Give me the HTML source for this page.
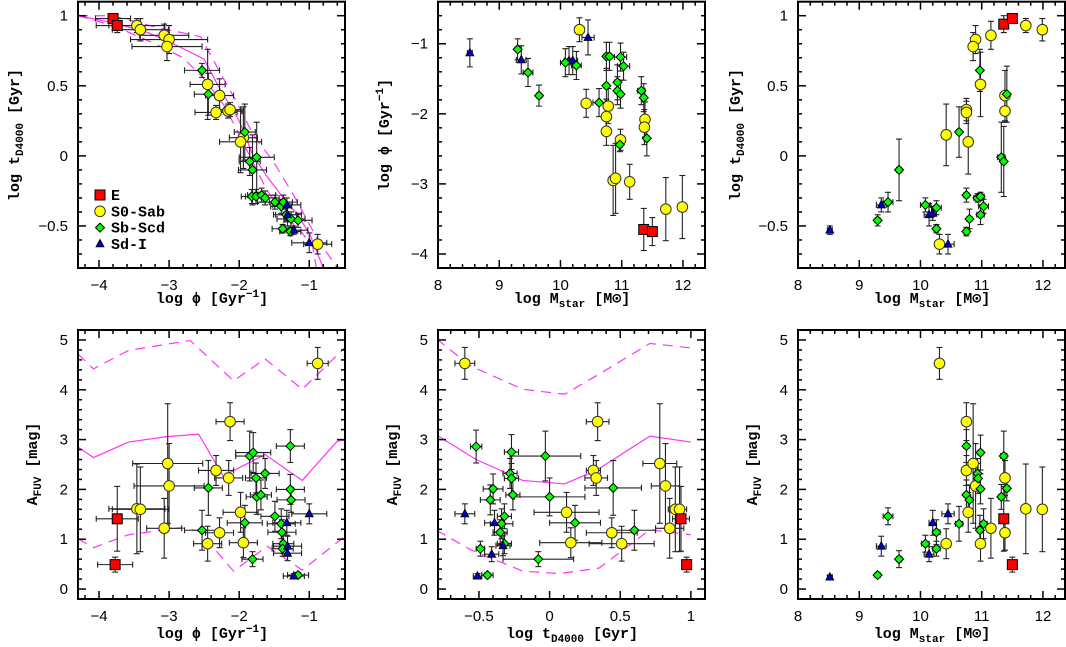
<!DOCTYPE html>
<html><head><meta charset="utf-8"><style>
html,body{margin:0;padding:0;background:#fff}
svg{display:block}
text{font-family:"Liberation Sans",sans-serif}
.t{font-family:"Liberation Mono",monospace;font-size:15px;font-weight:bold}
</style></head><body>
<svg id="fig" width="1066" height="647" viewBox="0 0 1066 647"></svg>
<script>
// type: 0=E,1=S0-Sab,2=Sb-Scd,3=Sd-I ; point = [x, y, xerr, yerr, type]
const p1Points=[[-3.80,0.98,0.25,0.03,0],[-3.74,0.93,0.3,0.05,0],[-3.46,0.93,0.4,0.05,1],[-3.41,0.90,0.4,0.08,1],[-3.07,0.86,0.35,0.08,1],[-3.0,0.83,0.55,0.1,1],[-3.03,0.78,0.5,0.1,1],[-2.45,0.51,0.25,0.25,1],[-2.28,0.43,0.2,0.12,1],[-2.33,0.31,0.3,0.05,1],[-2.16,0.32,0.2,0.05,1],[-2.13,0.33,0.15,0.05,1],[-1.94,0.13,0.2,0.22,1],[-1.98,0.10,0.3,0.22,1],[-0.88,-0.63,0.2,0.07,1],[-2.53,0.61,0.25,0.05,2],[-2.44,0.44,0.2,0.15,2],[-1.92,0.17,0.15,0.2,2],[-1.75,-0.01,0.25,0.25,2],[-1.85,-0.04,0.15,0.1,2],[-1.81,-0.10,0.2,0.25,2],[-1.82,-0.29,0.15,0.05,2],[-1.76,-0.29,0.15,0.05,2],[-1.68,-0.28,0.2,0.05,2],[-1.63,-0.30,0.2,0.05,2],[-1.49,-0.33,0.25,0.05,2],[-1.40,-0.36,0.15,0.05,2],[-1.37,-0.33,0.2,0.05,2],[-1.33,-0.42,0.15,0.05,2],[-1.26,-0.45,0.2,0.05,2],[-1.16,-0.46,0.2,0.05,2],[-1.38,-0.52,0.15,0.03,2],[-1.27,-0.54,0.15,0.03,2],[-1.32,-0.35,0.2,0.05,3],[-1.31,-0.42,0.2,0.08,3],[-1.22,-0.53,0.2,0.03,3],[-1.0,-0.62,0.25,0.07,3]];
const p2Points=[[8.52,-1.13,0.04,0.2,3],[9.36,-1.23,0.08,0.2,3],[10.14,-1.24,0.08,0.2,3],[10.2,-1.24,0.08,0.2,3],[10.45,-0.91,0.1,0.25,3],[10.31,-0.80,0.08,0.17,1],[10.42,-1.85,0.05,0.2,1],[10.78,-1.89,0.05,0.25,1],[10.75,-2.04,0.04,0.25,1],[10.75,-2.25,0.04,0.2,1],[10.98,-2.37,0.04,0.15,1],[10.86,-2.95,0.04,0.5,1],[10.9,-2.92,0.04,0.5,1],[11.13,-2.97,0.04,0.25,1],[11.38,-2.08,0.04,0.25,1],[11.37,-2.19,0.04,0.25,1],[11.72,-3.36,0.03,0.45,1],[11.99,-3.33,0.03,0.45,1],[11.36,-3.65,0.03,0.3,0],[11.5,-3.68,0.03,0.2,0],[9.30,-1.08,0.04,0.15,2],[9.47,-1.41,0.08,0.2,2],[9.65,-1.74,0.04,0.15,2],[10.08,-1.27,0.08,0.2,2],[10.26,-1.31,0.08,0.2,2],[10.63,-1.84,0.1,0.2,2],[10.75,-1.60,0.04,0.25,2],[10.75,-1.18,0.04,0.2,2],[10.8,-1.18,0.04,0.2,2],[10.98,-1.19,0.1,0.2,2],[11.03,-1.32,0.1,0.2,2],[10.93,-1.55,0.04,0.25,2],[10.93,-1.67,0.04,0.2,2],[10.98,-1.72,0.04,0.2,2],[10.97,-2.44,0.04,0.1,2],[11.32,-1.67,0.06,0.2,2],[11.36,-1.77,0.04,0.2,2],[11.41,-2.35,0.04,0.25,2]];
const p3Points=[[11.36,0.94,0.03,0.06,0],[11.5,0.98,0.03,0.02,0],[11.72,0.93,0.03,0.05,1],[11.99,0.90,0.03,0.08,1],[11.15,0.86,0.03,0.1,1],[10.9,0.83,0.03,0.1,1],[10.86,0.78,0.03,0.1,1],[10.98,0.51,0.03,0.23,1],[10.75,0.33,0.03,0.08,1],[10.75,0.31,0.03,0.08,1],[10.78,0.10,0.03,0.23,1],[10.42,0.15,0.03,0.22,1],[11.38,0.43,0.03,0.18,1],[11.38,0.32,0.03,0.08,1],[10.31,-0.63,0.03,0.07,1],[10.97,0.61,0.03,0.15,2],[11.41,0.44,0.03,0.2,2],[10.63,0.17,0.04,0.18,2],[11.32,-0.01,0.06,0.25,2],[11.36,-0.04,0.04,0.25,2],[9.65,-0.10,0.04,0.22,2],[9.47,-0.33,0.08,0.07,2],[9.30,-0.46,0.04,0.04,2],[10.08,-0.35,0.08,0.05,2],[10.26,-0.37,0.08,0.05,2],[10.26,-0.52,0.04,0.03,2],[10.75,-0.28,0.04,0.05,2],[10.93,-0.30,0.06,0.03,2],[10.98,-0.29,0.06,0.03,2],[11.03,-0.36,0.08,0.05,2],[10.98,-0.42,0.06,0.07,2],[10.8,-0.45,0.04,0.07,2],[10.75,-0.54,0.04,0.03,2],[8.52,-0.53,0.04,0.03,3],[9.36,-0.35,0.08,0.05,3],[10.14,-0.42,0.08,0.08,3],[10.2,-0.41,0.06,0.05,3],[10.45,-0.63,0.1,0.07,3]];
const p4Points=[[-3.74,1.41,0.3,0.65,0],[-3.77,0.49,0.25,0.15,0],[-3.46,1.61,0.4,0.9,1],[-3.41,1.60,0.4,0.85,1],[-3.02,2.52,0.5,1.2,1],[-3.0,2.07,0.5,0.85,1],[-3.07,1.22,0.25,0.6,1],[-2.45,0.91,0.2,0.35,1],[-2.28,1.13,0.2,0.3,1],[-2.33,2.38,0.25,0.3,1],[-2.15,2.23,0.2,0.35,1],[-2.13,3.36,0.2,0.38,1],[-1.98,1.54,0.25,0.4,1],[-1.94,0.93,0.2,0.3,1],[-0.88,4.53,0.15,0.32,1],[-2.53,1.18,0.25,0.4,2],[-2.44,2.03,0.2,0.55,2],[-1.92,1.33,0.25,0.35,2],[-1.81,0.60,0.15,0.15,2],[-1.85,2.67,0.2,0.5,2],[-1.8,2.74,0.25,0.4,2],[-1.76,2.23,0.15,0.3,2],[-1.75,1.85,0.15,0.35,2],[-1.69,1.89,0.15,0.3,2],[-1.63,2.32,0.2,0.3,2],[-1.49,1.46,0.2,0.3,2],[-1.40,1.31,0.2,0.3,2],[-1.39,1.14,0.2,0.25,2],[-1.37,0.91,0.15,0.2,2],[-1.38,0.81,0.15,0.15,2],[-1.27,2.87,0.2,0.33,2],[-1.27,2.0,0.2,0.3,2],[-1.26,1.79,0.2,0.25,2],[-1.16,0.28,0.15,0.05,2],[-1.32,1.33,0.2,0.25,3],[-1.31,0.86,0.2,0.2,3],[-1.31,0.72,0.2,0.15,3],[-1.22,0.26,0.15,0.05,3],[-1.0,1.51,0.25,0.2,3]];
const p5Points=[[-0.6,4.53,0.07,0.32,1],[0.34,3.36,0.08,0.38,1],[0.31,2.38,0.05,0.3,1],[0.33,2.23,0.08,0.35,1],[0.78,2.52,0.12,1.2,1],[0.82,2.07,0.1,0.85,1],[0.12,1.54,0.23,0.4,1],[0.15,0.93,0.22,0.3,1],[0.44,1.13,0.18,0.3,1],[0.51,0.91,0.23,0.35,1],[0.89,1.60,0.05,0.85,1],[0.92,1.60,0.05,0.85,1],[0.85,1.22,0.1,0.6,1],[0.93,1.41,0.06,0.65,0],[0.97,0.49,0.02,0.15,0],[-0.52,2.86,0.04,0.33,2],[-0.27,2.75,0.05,0.35,2],[-0.28,2.32,0.05,0.3,2],[-0.27,2.22,0.05,0.3,2],[-0.26,1.89,0.05,0.3,2],[-0.4,2.01,0.07,0.3,2],[-0.42,1.79,0.07,0.3,2],[-0.32,1.46,0.05,0.25,2],[-0.34,1.31,0.08,0.3,2],[-0.35,1.14,0.05,0.25,2],[-0.32,0.91,0.05,0.2,2],[-0.49,0.81,0.03,0.15,2],[-0.44,0.28,0.04,0.05,2],[-0.03,2.67,0.25,0.5,2],[0.0,1.85,0.25,0.38,2],[0.18,1.33,0.18,0.35,2],[0.45,2.03,0.2,0.55,2],[0.6,1.18,0.15,0.4,2],[-0.08,0.60,0.25,0.15,2],[-0.6,1.51,0.07,0.2,3],[-0.39,1.33,0.07,0.25,3],[-0.33,0.87,0.05,0.2,3],[-0.41,0.70,0.05,0.15,3],[-0.51,0.26,0.03,0.05,3]];
const p6Points=[[10.31,4.53,0.06,0.32,1],[10.75,3.36,0.03,0.38,1],[10.75,2.38,0.03,0.3,1],[10.86,2.52,0.03,1.2,1],[10.9,2.07,0.03,0.85,1],[10.78,1.54,0.03,0.4,1],[10.98,0.91,0.03,0.35,1],[11.15,1.22,0.03,0.6,1],[11.38,2.23,0.03,0.35,1],[11.38,1.13,0.03,0.35,1],[10.42,0.91,0.03,0.3,1],[11.72,1.61,0.03,0.9,1],[11.99,1.60,0.03,0.85,1],[11.36,1.41,0.03,0.65,0],[11.5,0.49,0.03,0.15,0],[9.47,1.46,0.08,0.17,2],[9.30,0.28,0.04,0.05,2],[9.65,0.60,0.04,0.17,2],[10.08,0.91,0.06,0.17,2],[10.26,1.14,0.06,0.25,2],[10.26,0.81,0.06,0.15,2],[10.63,1.31,0.06,0.35,2],[10.75,2.87,0.04,0.33,2],[10.75,1.89,0.04,0.3,2],[10.8,1.79,0.04,0.3,2],[10.93,2.32,0.04,0.3,2],[10.94,2.22,0.04,0.3,2],[10.98,2.74,0.04,0.35,2],[10.98,2.01,0.04,0.3,2],[10.97,1.18,0.04,0.3,2],[11.03,1.31,0.06,0.3,2],[11.32,1.85,0.04,0.25,2],[11.36,2.67,0.05,0.5,2],[11.41,2.02,0.04,0.25,2],[8.52,0.24,0.04,0.03,3],[9.36,0.86,0.08,0.2,3],[10.14,0.70,0.08,0.15,3],[10.2,1.33,0.06,0.25,3],[10.45,1.51,0.1,0.2,3]];
// model curves [x,y]
const p1Solid=[[-4.3,1.0],[-3.8,0.95],[-3.3,0.88],[-2.9,0.79],[-2.5,0.69],[-2.3,0.5],[-2.0,0.25],[-1.8,0.0],[-1.6,-0.15],[-1.4,-0.28],[-1.2,-0.4],[-1.0,-0.55],[-0.8,-0.8]];
const p1Upper=[[-4.3,1.0],[-3.8,1.0],[-3.2,0.92],[-2.55,0.85],[-2.3,0.62],[-2.0,0.35],[-1.8,0.15],[-1.5,-0.05],[-1.2,-0.3],[-0.9,-0.58],[-0.6,-0.8]];
const p1Lower=[[-4.3,1.0],[-3.8,0.93],[-3.2,0.8],[-2.8,0.7],[-2.5,0.55],[-2.2,0.35],[-2.0,0.15],[-1.8,-0.05],[-1.6,-0.25],[-1.3,-0.45],[-1.1,-0.55],[-0.95,-0.65],[-0.9,-0.8]];
const p4Solid=[[-4.3,2.85],[-4.08,2.64],[-3.58,2.95],[-3.03,3.06],[-2.58,3.11],[-2.23,2.27],[-1.63,2.7],[-1.10,2.18],[-0.6,2.97],[-0.49,2.99]];
const p4Upper=[[-4.3,4.72],[-4.08,4.42],[-3.58,4.79],[-2.7,4.99],[-2.08,4.18],[-1.63,4.62],[-1.1,4.01],[-0.49,4.85]];
const p4Lower=[[-4.3,1.01],[-4.08,0.83],[-3.58,1.09],[-2.84,1.23],[-2.58,1.17],[-2.08,0.36],[-1.6,0.86],[-1.1,0.38],[-0.49,1.06]];
const p5Solid=[[-0.8,3.09],[-0.52,2.60],[-0.19,2.18],[0.106,2.11],[0.33,2.38],[0.71,3.07],[1.0,2.95]];
const p5Upper=[[-0.8,5.02],[-0.56,4.48],[-0.19,4.01],[0.106,3.91],[0.33,4.28],[0.71,4.93],[1.0,4.84]];
const p5Lower=[[-0.8,1.18],[-0.56,0.79],[-0.19,0.36],[0.07,0.31],[0.35,0.42],[0.71,1.19],[1.0,1.09]];
const legendLabels=["E","S0-Sab","Sb-Scd","Sd-I"];
const xTicksPhi=[-4,-3,-2,-1], xTicksM=[8,9,10,11,12], xTicksT=[-0.5,0,0.5,1];
const yTicksT=[-0.5,0,0.5,1], yTicksPhi=[-4,-3,-2,-1], yTicksA=[0,1,2,3,4,5];

const NS="http://www.w3.org/2000/svg";
const svg=document.getElementById('fig');
function mk(tag,at,parent){const e=document.createElementNS(NS,tag);for(const k in at)e.setAttribute(k,at[k]);(parent||svg).appendChild(e);return e;}
const fills=["#ff0000","#ffff00","#00ff00","#0000cc"];
function marker(g,type,px,py){
  let e;
  if(type===0){e=mk('rect',{x:px-5,y:py-5,width:10,height:10,fill:fills[0],stroke:'#000','stroke-width':1},g);}
  else if(type===1){e=mk('circle',{cx:px,cy:py,r:5.3,fill:fills[1],stroke:'#333','stroke-width':1},g);}
  else if(type===2){e=mk('polygon',{points:`${px},${py-4.5} ${px+4.5},${py} ${px},${py+4.5} ${px-4.5},${py}`,fill:fills[2],stroke:'#000','stroke-width':1},g);}
  else {e=mk('polygon',{points:`${px},${py-4.5} ${px+4},${py+3} ${px-4},${py+3}`,fill:fills[3],stroke:'#000','stroke-width':0.8},g);}
  return e;
}
function panel(cfg){
  const {name,L,T,W,H,x0,x1,y0,y1,xMaj,xMin,yMaj,yMin,xt,yt,xfmt,yfmt,pts,curves}=cfg;
  const g=mk('g',{});
  
  
  const X=v=>L+(v-x0)/(x1-x0)*W, Y=v=>T+(y1-v)/(y1-y0)*H;
  const cp='cp'+name;
  const defs=mk('defs',{},g);const c=mk('clipPath',{id:cp},defs);mk('rect',{x:L,y:T,width:W,height:H},c);
  // curves
  const cg=mk('g',{'clip-path':`url(#${cp})`},g);
  (curves||[]).forEach(([arr,dash,nm])=>{
    const pl=mk('polyline',{points:arr.map(p=>X(p[0])+','+Y(p[1])).join(' '),fill:'none',stroke:'#ff33ff','stroke-width':1.2,'stroke-dasharray':dash},cg);
    
    
  });
  // error bars
  const eg=mk('g',{stroke:'#222','stroke-width':1.1,'clip-path':`url(#${cp})`},g);
  pts.forEach(p=>{
    const px=X(p[0]),py=Y(p[1]),xa=X(p[0]-p[2]),xb=X(p[0]+p[2]),ya=Y(p[1]-p[3]),yb=Y(p[1]+p[3]);
    mk('line',{x1:xa,y1:py,x2:xb,y2:py},eg);mk('line',{x1:px,y1:ya,x2:px,y2:yb},eg);
    mk('line',{x1:xa,y1:py-3,x2:xa,y2:py+3},eg);mk('line',{x1:xb,y1:py-3,x2:xb,y2:py+3},eg);
    mk('line',{x1:px-3,y1:ya,x2:px+3,y2:ya},eg);mk('line',{x1:px-3,y1:yb,x2:px+3,y2:yb},eg);
  });
  const mg=mk('g',{'clip-path':`url(#${cp})`},g);
  pts.forEach(p=>{const e=marker(mg,p[4],X(p[0]),Y(p[1]));
    
    });
  // frame & ticks
  const fr=mk('rect',{x:L,y:T,width:W,height:H,fill:'none',stroke:'#000','stroke-width':2},g);
  
  
  const tg=mk('g',{stroke:'#000','stroke-width':1.5},g);
  const eps=1e-6;
  for(let v=Math.ceil(x0/xMin-eps)*xMin;v<=x1+eps;v+=xMin){const px=X(v);const maj=Math.abs(v/xMaj-Math.round(v/xMaj))<1e-4;const l=maj?8:4;
    mk('line',{x1:px,y1:T+H,x2:px,y2:T+H-l},tg);mk('line',{x1:px,y1:T,x2:px,y2:T+l},tg);}
  for(let v=Math.ceil(y0/yMin-eps)*yMin;v<=y1+eps;v+=yMin){const py=Y(v);const maj=Math.abs(v/yMaj-Math.round(v/yMaj))<1e-4;const l=maj?8:4;
    mk('line',{x1:L,y1:py,x2:L+l,y2:py},tg);mk('line',{x1:L+W,y1:py,x2:L+W-l,y2:py},tg);}
  xt.forEach(v=>{const t=mk('text',{x:X(v),y:T+H+22,'text-anchor':'middle','font-size':15},g);t.textContent=xfmt(v).replace('-','\u2212');
    });
  yt.forEach(v=>{const t=mk('text',{x:L-10,y:Y(v)+5,'text-anchor':'end','font-size':15},g);t.textContent=yfmt(v).replace('-','\u2212');
    });
  return {g,X,Y,L,T,W,H};
}
const f=v=>String(v);
const dash='10,7';
const TT=1.7,TH=266.3,BT=330,BH=269,W=267;
const a=panel({name:'panel-phi-vs-age',L:78,T:TT,W,H:TH,x0:-4.3,x1:-0.49,y0:-0.8,y1:1.1,xMaj:1,xMin:0.2,yMaj:0.5,yMin:0.1,xt:xTicksPhi,yt:yTicksT,xfmt:f,yfmt:f,pts:p1Points,curves:[[p1Solid,'none','model-solid'],[p1Upper,dash,'model-upper'],[p1Lower,dash,'model-lower']]});
panel({name:'panel-mass-vs-phi',L:438,T:TT,W,H:TH,x0:8,x1:12.36,y0:-4.2,y1:-0.4,xMaj:1,xMin:0.2,yMaj:1,yMin:0.2,xt:xTicksM,yt:yTicksPhi,xfmt:f,yfmt:f,pts:p2Points});
panel({name:'panel-mass-vs-age',L:798,T:TT,W,H:TH,x0:8,x1:12.36,y0:-0.8,y1:1.1,xMaj:1,xMin:0.2,yMaj:0.5,yMin:0.1,xt:xTicksM,yt:yTicksT,xfmt:f,yfmt:f,pts:p3Points});
panel({name:'panel-phi-vs-afuv',L:78,T:BT,W,H:BH,x0:-4.3,x1:-0.49,y0:-0.2,y1:5.2,xMaj:1,xMin:0.2,yMaj:1,yMin:0.2,xt:xTicksPhi,yt:yTicksA,xfmt:f,yfmt:f,pts:p4Points,curves:[[p4Solid,'none','model-solid'],[p4Upper,dash,'model-upper'],[p4Lower,dash,'model-lower']]});
panel({name:'panel-age-vs-afuv',L:438,T:BT,W,H:BH,x0:-0.79,x1:1.1,y0:-0.2,y1:5.2,xMaj:0.5,xMin:0.1,yMaj:1,yMin:0.2,xt:xTicksT,yt:yTicksA,xfmt:f,yfmt:f,pts:p5Points,curves:[[p5Solid,'none','model-solid'],[p5Upper,dash,'model-upper'],[p5Lower,dash,'model-lower']]});
panel({name:'panel-mass-vs-afuv',L:798,T:BT,W,H:BH,x0:8,x1:12.36,y0:-0.2,y1:5.2,xMaj:1,xMin:0.2,yMaj:1,yMin:0.2,xt:xTicksM,yt:yTicksA,xfmt:f,yfmt:f,pts:p6Points});
// legend
const lg=mk('g',{});


legendLabels.forEach((lab,i)=>{const y=195+i*16.3;const m=marker(lg,i,100,y);
  const t=mk('text',{x:111,y:y+5,'font-size':14,class:'t'},lg);t.textContent=lab;
  });
</script>
<svg width="0" height="0"></svg>
<div style="position:absolute;left:0;top:0;width:1066px;height:647px;pointer-events:none">
<svg width="1066" height="647" style="position:absolute;left:0;top:0">
<g class="t" font-size="15" font-family="Liberation Mono, monospace" font-weight="bold">
<text x="212" y="303" text-anchor="middle" class="t">log ϕ [Gyr<tspan dy="-6" font-size="11">−1</tspan><tspan dy="6">]</tspan></text>
<text x="572" y="303" text-anchor="middle" class="t">log M<tspan dy="4" font-size="11">star</tspan><tspan dy="-4"> [M⊙]</tspan></text>
<text x="932" y="303" text-anchor="middle" class="t">log M<tspan dy="4" font-size="11">star</tspan><tspan dy="-4"> [M⊙]</tspan></text>
<text x="212" y="638" text-anchor="middle" class="t">log ϕ [Gyr<tspan dy="-6" font-size="11">−1</tspan><tspan dy="6">]</tspan></text>
<text x="572" y="638" text-anchor="middle" class="t">log t<tspan dy="4" font-size="11">D4000</tspan><tspan dy="-4"> [Gyr]</tspan></text>
<text x="932" y="638" text-anchor="middle" class="t">log M<tspan dy="4" font-size="11">star</tspan><tspan dy="-4"> [M⊙]</tspan></text>
<text transform="translate(19,135) rotate(-90)" text-anchor="middle" class="t">log t<tspan dy="4" font-size="11">D4000</tspan><tspan dy="-4"> [Gyr]</tspan></text>
<text transform="translate(389,135) rotate(-90)" text-anchor="middle" class="t">log ϕ [Gyr<tspan dy="-6" font-size="11">−1</tspan><tspan dy="6">]</tspan></text>
<text transform="translate(740,135) rotate(-90)" text-anchor="middle" class="t">log t<tspan dy="4" font-size="11">D4000</tspan><tspan dy="-4"> [Gyr]</tspan></text>
<text transform="translate(37,464) rotate(-90)" text-anchor="middle" class="t">A<tspan dy="4" font-size="11">FUV</tspan><tspan dy="-4"> [mag]</tspan></text>
<text transform="translate(397,464) rotate(-90)" text-anchor="middle" class="t">A<tspan dy="4" font-size="11">FUV</tspan><tspan dy="-4"> [mag]</tspan></text>
<text transform="translate(757,464) rotate(-90)" text-anchor="middle" class="t">A<tspan dy="4" font-size="11">FUV</tspan><tspan dy="-4"> [mag]</tspan></text>
</g></svg></div>
</body></html>
